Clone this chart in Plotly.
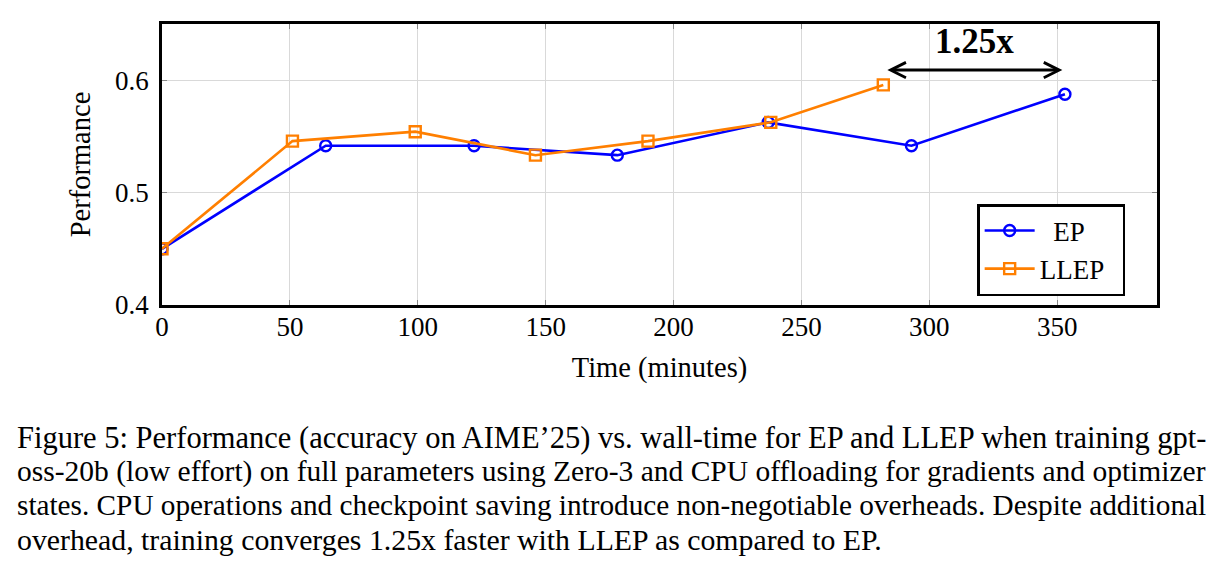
import plotly.graph_objects as go

# ---- data ----
ep_time = [0, 64, 122, 178, 237, 293, 353]
ep_perf = [0.45, 0.5417, 0.5417, 0.5333, 0.5625, 0.5417, 0.5875]
llep_time = [0, 51, 99, 146, 190, 238, 282]
llep_perf = [0.45, 0.5458, 0.5542, 0.5333, 0.5458, 0.5625, 0.5958]
x_ticks = [0, 50, 100, 150, 200, 250, 300, 350]
y_ticks = [0.4, 0.5, 0.6]
speedup_label = "1.25x"
arrow_y = 0.609
caption_lines = [
    "Figure 5: Performance (accuracy on AIME\u201925) vs. wall-time for EP and LLEP when training gpt-",
    "oss-20b (low effort) on full parameters using Zero-3 and CPU offloading for gradients and optimizer",
    "states. CPU operations and checkpoint saving introduce non-negotiable overheads. Despite additional",
    "overhead, training converges 1.25x faster with LLEP as compared to EP.",
]
caption_sizes = [30.5, 29.5, 29.25, 29.8]

FONT = "Liberation Serif"
BLUE = "#0000FF"
ORANGE = "#FF7F00"

fig = go.Figure()
fig.add_trace(go.Scatter(
    x=ep_time, y=ep_perf, mode="lines+markers", name="\u2002EP",
    line=dict(color=BLUE, width=2.6),
    marker=dict(symbol="circle-open", size=11, color=BLUE, line=dict(width=2.4, color=BLUE)),
))
fig.add_trace(go.Scatter(
    x=llep_time, y=llep_perf, mode="lines+markers", name="LLEP\u2002",
    line=dict(color=ORANGE, width=2.6),
    marker=dict(symbol="square-open", size=11, color=ORANGE, line=dict(width=2.4, color=ORANGE)),
))

# double-headed arrow between the two finishing times
fig.add_annotation(
    x=ep_time[-1] - 1, y=arrow_y, ax=llep_time[-1] + 1, ay=arrow_y,
    xref="x", yref="y", axref="x", ayref="y",
    text="", showarrow=True, arrowside="end+start", arrowhead=5,
    arrowsize=1.0, arrowwidth=3, arrowcolor="black",
)
fig.add_annotation(
    x=(ep_time[-1] + llep_time[-1]) / 2, y=0.634, xref="x", yref="y",
    text="<b>" + speedup_label + "</b>", showarrow=False,
    font=dict(family=FONT, size=35, color="black"),
)

# caption
for i, line in enumerate(caption_lines):
    ypx = 438 + i * 33.7
    fig.add_annotation(
        x=-0.1477, y=(305 - ypx) / 281, xref="paper", yref="paper",
        xanchor="left", yanchor="middle", text=line, showarrow=False,
        font=dict(family=FONT, size=caption_sizes[i], color="black"),
    )

axis_common = dict(
    showline=True, linecolor="black", linewidth=2.5, mirror="allticks",
    showgrid=True, gridcolor="#d9d9d9", gridwidth=1,
    ticks="inside", ticklen=5, tickcolor="#888888", tickwidth=1,
    zeroline=False, tickfont=dict(family=FONT, size=27, color="black"),
)

fig.update_layout(
    width=1223, height=567,
    margin=dict(l=162, r=66, t=24, b=262, pad=0),
    paper_bgcolor="white", plot_bgcolor="white",
    showlegend=True,
    legend=dict(
        x=0.968, y=0.032, xanchor="right", yanchor="bottom",
        bgcolor="white", bordercolor="black", borderwidth=2.5,
        font=dict(family=FONT, size=27, color="black"),
        itemwidth=50, tracegroupgap=0,
    ),
    xaxis=dict(
        range=[0, 389], tickvals=x_ticks, ticktext=[str(v) for v in x_ticks],
        title=dict(text="Time (minutes)", font=dict(family=FONT, size=28.5, color="black"), standoff=16),
        ticklabelstandoff=-4,
        **axis_common,
    ),
    yaxis=dict(
        range=[0.4, 0.65], tickvals=y_ticks, ticktext=[f"{v:.1f}" for v in y_ticks],
        title=dict(text="Performance", font=dict(family=FONT, size=28.5, color="black"), standoff=17),
        ticklabelstandoff=5,
        **axis_common,
    ),
)

fig.write_html("out.html")
